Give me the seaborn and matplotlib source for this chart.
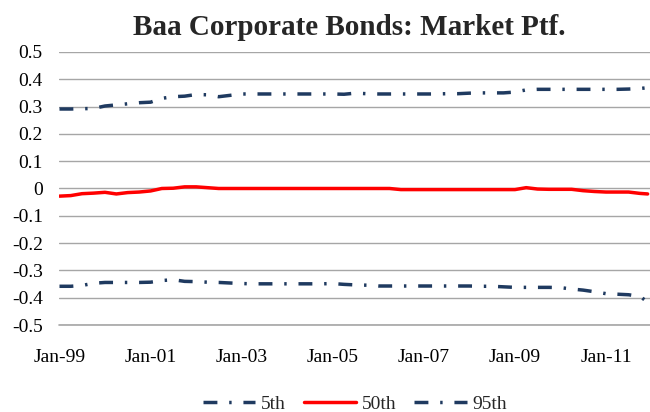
import numpy as np
import pandas as pd
import matplotlib
matplotlib.use("Agg")
import matplotlib.pyplot as plt
import seaborn as sns

# quarterly readings Jan-99 .. Oct-11, plus the last month Dec-11
dates = list(pd.date_range("1999-01-01", "2011-10-01", freq="QS")) + [pd.Timestamp("2011-12-01")]

p5 = [-0.358, -0.358, -0.355, -0.347, -0.344, -0.344, -0.344, -0.344, -0.343, -0.337,
      -0.334, -0.340, -0.341, -0.343, -0.344, -0.346, -0.348, -0.349, -0.349, -0.349,
      -0.349, -0.349, -0.349, -0.349, -0.348, -0.351, -0.353, -0.354, -0.357, -0.357,
      -0.357, -0.357, -0.357, -0.357, -0.357, -0.357, -0.357, -0.358, -0.358, -0.360,
      -0.362, -0.362, -0.362, -0.362, -0.363, -0.368, -0.372, -0.378, -0.385, -0.387,
      -0.389, -0.395, -0.416]

p50 = [-0.028, -0.026, -0.019, -0.017, -0.014, -0.020, -0.015, -0.013, -0.009, 0.000,
       0.001, 0.006, 0.006, 0.003, 0.000, 0.000, 0.000, 0.000, 0.000, 0.000,
       0.000, 0.000, 0.000, 0.000, 0.000, 0.000, 0.000, 0.000, 0.000, 0.000,
       -0.004, -0.004, -0.004, -0.004, -0.004, -0.004, -0.004, -0.004, -0.004, -0.004,
       -0.004, 0.003, -0.002, -0.003, -0.003, -0.003, -0.008, -0.011, -0.013, -0.013,
       -0.013, -0.018, -0.020]

p95 = [0.291, 0.291, 0.292, 0.293, 0.302, 0.306, 0.310, 0.314, 0.316, 0.330,
       0.336, 0.338, 0.344, 0.343, 0.336, 0.341, 0.346, 0.346, 0.346, 0.346,
       0.346, 0.346, 0.346, 0.346, 0.346, 0.345, 0.349, 0.347, 0.346, 0.346,
       0.346, 0.346, 0.346, 0.346, 0.347, 0.347, 0.349, 0.350, 0.350, 0.350,
       0.353, 0.361, 0.363, 0.363, 0.363, 0.363, 0.363, 0.363, 0.363, 0.363,
       0.364, 0.366, 0.369]

series_names = ["5th", "50th", "95th"]
y_ticks = [-0.5, -0.4, -0.3, -0.2, -0.1, 0.0, 0.1, 0.2, 0.3, 0.4, 0.5]
y_labels = ["-0.5", "-0.4", "-0.3", "-0.2", "-0.1", "0", "0.1", "0.2", "0.3", "0.4", "0.5"]
x_labels = ["Jan-99", "Jan-01", "Jan-03", "Jan-05", "Jan-07", "Jan-09", "Jan-11"]

sns.set_theme(style="white")
plt.rcParams["font.family"] = ["Liberation Serif", "DejaVu Serif"]

navy = "#1F3A60"
red = "#FF0000"
grid_grey = "#A6A6A6"
dashdot = (4.0, 3.4, 0.7, 3.4)

df = pd.DataFrame({"date": dates, "5th": p5, "50th": p50, "95th": p95})

fig = plt.figure(figsize=(6.5, 4.12), dpi=100)
ax = fig.add_axes([0.0915, 0.211, 0.9085, 0.663])

styles = {"5th": (navy, dashdot), "50th": (red, None), "95th": (navy, dashdot)}
for name in series_names:
    color, dash = styles[name]
    sns.lineplot(data=df, x="date", y=name, ax=ax, color=color, lw=2.5, label=name)
    line = ax.lines[-1]
    if dash is not None:
        line.set_dashes(dash)

ax.set_xlim(pd.Timestamp("1999-01-01"), pd.Timestamp("2011-12-20"))
ax.set_ylim(-0.5, 0.5)
ax.set_yticks(y_ticks)
ax.set_yticklabels(y_labels)
ax.set_xticks([pd.Timestamp(f"{1999 + 2 * i}-01-01") for i in range(len(x_labels))])
ax.set_xticklabels(x_labels)
ax.tick_params(axis="both", length=0, labelsize=14, colors="black")
ax.tick_params(axis="y", pad=12)
ax.tick_params(axis="x", pad=17)
ax.set_xlabel("")
ax.set_ylabel("")
for s in ax.spines.values():
    s.set_visible(False)
ax.grid(axis="y", color=grid_grey, lw=1.0)
ax.set_axisbelow(True)
# axis line at -0.5, drawn unclipped so it does not vanish on the edge
ax.axhline(-0.5, color=grid_grey, lw=1.2, clip_on=False, zorder=0.5)

fig.suptitle("Baa Corporate Bonds: Market Ptf.", fontsize=21, fontweight="bold", x=0.537, y=0.965)

ax.legend(loc="lower center", bbox_to_anchor=(0.546, -0.022), bbox_transform=fig.transFigure,
          ncol=3, frameon=False, fontsize=14, handlelength=2.7, handletextpad=0.3,
          columnspacing=0.9, borderaxespad=0)

fig.savefig("out.png", dpi=100)
